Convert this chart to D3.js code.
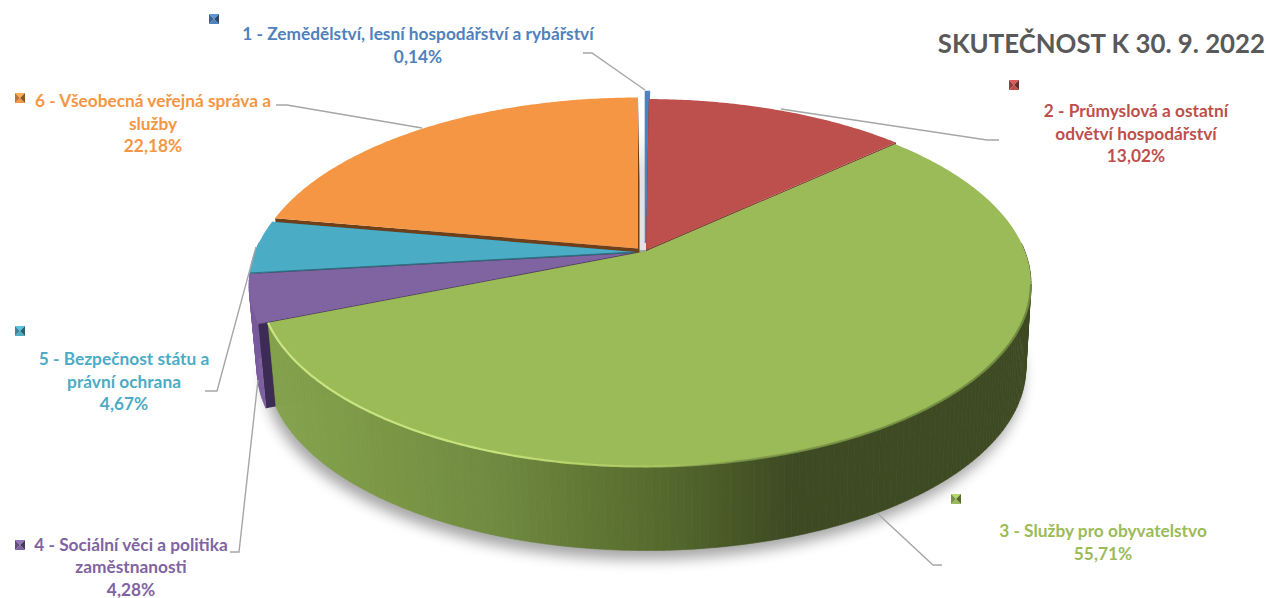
<!DOCTYPE html>
<html>
<head>
<meta charset="utf-8">
<script src="https://cdn.jsdelivr.net/npm/d3@7"></script>
<style>
  html, body { margin: 0; background: #fff; }
  text { font-family: Lato, "Open Sans", sans-serif; font-weight: 700; }
</style>
</head>
<body>
<figure style="margin:0"></figure>
<script>
const categories = [
  '1 - Zemědělství, lesní hospodářství a rybářství',
  '2 - Průmyslová a ostatní odvětví hospodářství',
  '3 - Služby pro obyvatelstvo',
  '4 - Sociální věci a politika zaměstnanosti',
  '5 - Bezpečnost státu a právní ochrana',
  '6 - Všeobecná veřejná správa a služby'
]
const values = [0.14, 13.02, 55.71, 4.28, 4.67, 22.18]
const colors = ['#4f81bd', '#bd4f4c', '#9bbb59', '#8064a2', '#4bacc6', '#f59644']
const titleText = 'SKUTEČNOST K 30. 9. 2022'

// how the long names wrap in the labels
const wrapAfter = [null, 'ostatní', null, 'politika', 'a', 'a']

const WIDTH = 1266
const HEIGHT = 598

// perspective disc
const RX = 380
const RY = 177.4
const PERSPECTIVE = 0.175
const DEPTH = 84
const BOTTOM_RX = 373.5
const BOTTOM_SHIFT = 1.5

// explosion of each slice, in pixels
const sliceCentres = [[646, 243], [646, 250], [645, 251.5], [635, 253], [635, 252], [638, 248.5]]

const labelAnchors = [[418, 40], [1136, 117], [1103, 537], [131, 550.5], [124, 365], [153, 107]]
const keyCentres = [[214, 19], [1014, 85], [956, 499], [20, 545], [20, 331], [20, 98]]
const leaders = [
  [[583, 53], [592, 53], [645, 90]],
  [[781, 109], [987, 140], [999, 140]],
  [[877, 513], [933, 565], [942, 565]],
  [[258, 380], [239, 552], [230, 552]],
  [[256, 247], [217, 391], [205, 391]],
  [[276, 105], [287, 105], [422, 128]]
]

const wallScale = d3.scaleLinear()
  .domain([270, 400, 500, 600, 660, 720, 790])
  .range(['#86a44f', '#7a9645', '#708a40', '#5f7533', '#566a2e', '#4a5b28', '#3e4a22'])
  .clamp(true)

const slices = d3.pie().sort(null).value(d => d)(values)

// theta clockwise from the back of the pie, r 0..1
function project (theta, r, i, low) {
  const [cx, cy] = sliceCentres[i]
  const u = Math.sin(theta) * r
  const v = Math.cos(theta) * r
  const w = 1 + PERSPECTIVE * v
  return [
    cx + (low ? BOTTOM_SHIFT : 0) + (low ? BOTTOM_RX : RX) * u / w,
    cy - RY * v / w + (low ? DEPTH : 0)
  ]
}

const line = d3.line()
const arcPoints = (a0, a1, i, low) => d3.range(0, 1.0001, 1 / Math.max(2, Math.ceil((a1 - a0) * 90)))
  .map(t => project(a0 + (a1 - a0) * t, 1, i, low))

const svg = d3.select('figure').append('svg')
  .attr('width', WIDTH)
  .attr('height', HEIGHT)
  .style('display', 'block')

const defs = svg.append('defs')
defs.append('filter').attr('id', 'shadow')
  .attr('x', '-10%').attr('y', '-10%').attr('width', '120%').attr('height', '120%')
  .append('feGaussianBlur').attr('stdDeviation', 7)
defs.append('filter').attr('id', 'soft')
  .attr('x', '-5%').attr('y', '-5%').attr('width', '110%').attr('height', '110%')
  .append('feGaussianBlur').attr('stdDeviation', 0.7)

const rim = defs.append('linearGradient').attr('id', 'rim')
  .attr('gradientUnits', 'userSpaceOnUse')
  .attr('x1', 267).attr('x2', 1031).attr('y1', 0).attr('y2', 0)
rim.selectAll('stop')
  .data([[0, '#d3ea86', 0.9], [0.3, '#c6e27a', 1], [0.52, '#b5d268', 0.7], [0.62, '#7d9848', 0.8], [1, '#6f8a3f', 1]])
  .enter().append('stop')
  .attr('offset', d => d[0])
  .attr('stop-color', d => d[1])
  .attr('stop-opacity', d => d[2])

const gap = defs.append('linearGradient').attr('id', 'gap')
  .attr('x1', 0).attr('x2', 0).attr('y1', 0).attr('y2', 1)
gap.append('stop').attr('offset', 0).attr('stop-color', '#e2e2e2').attr('stop-opacity', 0)
gap.append('stop').attr('offset', 0.35).attr('stop-color', '#e2e2e2')
gap.append('stop').attr('offset', 1).attr('stop-color', '#e2e2e2')

// drop shadow under the base
svg.append('path')
  .attr('d', line(arcPoints(0, Math.PI * 2, 2, true)) + 'Z')
  .attr('transform', 'translate(-3,9)')
  .attr('fill', '#000')
  .attr('opacity', 0.35)
  .attr('filter', 'url(#shadow)')

svg.append('rect')
  .attr('x', project(0, 1, 5)[0])
  .attr('width', project(0, 1, 0)[0] - project(0, 1, 5)[0])
  .attr('y', project(0, 1, 1)[1] + 30)
  .attr('height', project(0, 0, 1)[1] - project(0, 1, 1)[1] - 30)
  .attr('fill', 'url(#gap)')

const wallColor = (i, x) => i === 2 ? wallScale(x) : i === 3 ? '#7a5d9e' : d3.color(colors[i]).darker(0.5).formatHex()

// back to front
const drawOrder = [5, 0, 1, 4, 3, 2]

drawOrder.forEach(i => {
  const s = slices[i]
  const g = svg.append('g').attr('class', 'slice')
  const a0 = s.startAngle
  const a1 = s.endAngle

  // cut faces
  ;[a0, a1].forEach(a => {
    const isGreenLead = i === 2 && a === a0
    if (isGreenLead) return
    g.append('path')
      .attr('d', line([project(a, 0, i), project(a, 1, i), project(a, 1, i, true), project(a, 0, i, true)]) + 'Z')
      .attr('fill', i === 3 ? '#3b2b55' : i === 5 ? '#6e3f18' : d3.color(colors[i]).darker(1.4).formatHex())
  })

  // outer wall as thin strips so the shade can follow x, front part only
  const steps = Math.max(1, Math.ceil((a1 - a0) * 180 / Math.PI))
  d3.range(steps).forEach(k => {
    const t0 = a0 + (a1 - a0) * k / steps
    const t1 = a0 + (a1 - a0) * (k + 1) / steps
    if (Math.cos((t0 + t1) / 2) > 0.05) return
    const c = project((t0 + t1) / 2, 1, i, true)
    const col = wallColor(i, c[0])
    g.append('path')
      .attr('d', line([project(t0, 1, i), project(t1, 1, i), project(t1, 1, i, true), project(t0, 1, i, true)]) + 'Z')
      .attr('fill', col)
      .attr('stroke', col)
      .attr('stroke-width', 0.6)
  })

  // top face
  const top = [project(a0, 0, i)].concat(arcPoints(a0, a1, i))
  g.append('path')
    .attr('d', line(top) + 'Z')
    .attr('fill', colors[i])
    .attr('stroke', i === 0 ? colors[0] : 'none')
    .attr('stroke-width', i === 0 ? 2.6 : 0)

  // dark seam on the narrow slices
  if (i === 3 || i === 4) {
    g.append('path')
      .attr('d', line([project(a0, 0, i), project(a0, 1, i)]))
      .attr('stroke', d3.color(colors[i]).darker(1.3).formatHex())
      .attr('stroke-width', 0.9)
      .attr('fill', 'none')
  }
})

// bevel along the front rim of the big slice
svg.append('path')
  .attr('d', line(arcPoints(1.75, slices[2].endAngle, 2)))
  .attr('fill', 'none')
  .attr('stroke', 'url(#rim)')
  .attr('stroke-width', 2.2)
  .attr('filter', 'url(#soft)')

svg.append('g').selectAll('path')
  .data(leaders)
  .enter().append('path')
  .attr('d', d => line(d))
  .attr('fill', 'none')
  .attr('stroke', '#a6a6a6')
  .attr('stroke-width', 1.4)

// legend keys, little bevelled squares
const KEY = 5
const keys = svg.append('g').selectAll('g')
  .data(keyCentres)
  .enter().append('g')
  .attr('transform', d => `translate(${d[0]},${d[1]})`)
const facets = [
  { pts: [[-KEY, -KEY], [KEY, -KEY], [0, 0]], tone: c => d3.color(c).brighter(0.4) },
  { pts: [[-KEY, KEY], [KEY, KEY], [0, 0]], tone: c => d3.color(c) },
  { pts: [[-KEY, -KEY], [-KEY, KEY], [0, 0]], tone: c => d3.color(c).darker(0.7) },
  { pts: [[KEY, -KEY], [KEY, KEY], [0, 0]], tone: c => d3.color(c).darker(1.6) }
]
keys.each(function (d, i) {
  d3.select(this).selectAll('path')
    .data(facets)
    .enter().append('path')
    .attr('d', f => line(f.pts) + 'Z')
    .attr('fill', f => f.tone(colors[i]).formatHex())
})

const fmt = v => v.toFixed(2).replace('.', ',') + '%'
const labelLines = categories.map((c, i) => {
  if (!wrapAfter[i]) return [c, fmt(values[i])]
  const words = c.split(' ')
  const cut = words.lastIndexOf(wrapAfter[i]) + 1
  return [words.slice(0, cut).join(' '), words.slice(cut).join(' '), fmt(values[i])]
})

const labels = svg.append('g').selectAll('text')
  .data(labelLines)
  .enter().append('text')
  .attr('text-anchor', 'middle')
  .attr('font-size', 17.3)
  .attr('fill', (d, i) => colors[i])
  .attr('transform', (d, i) => `translate(${labelAnchors[i][0]},${labelAnchors[i][1]})`)
labels.selectAll('tspan')
  .data(d => d)
  .enter().append('tspan')
  .attr('x', 0)
  .attr('y', (d, k) => k * 22.5)
  .text(d => d)

svg.append('text')
  .attr('x', 1265)
  .attr('y', 53)
  .attr('text-anchor', 'end')
  .attr('font-size', 25.8)
  .attr('fill', '#595959')
  .text(titleText)
</script>
</body>
</html>
